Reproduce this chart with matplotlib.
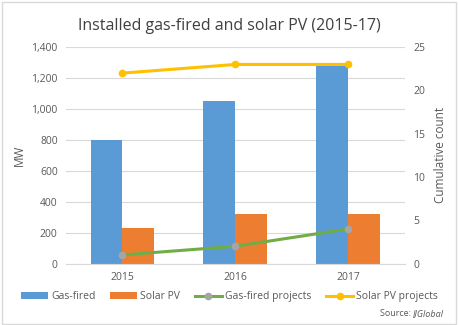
from matplotlib import pyplot as plt
from matplotlib.patches import Rectangle
import numpy as np

years = ["2015", "2016", "2017"]
gas_mw = [800, 1050, 1280]
solar_mw = [230, 320, 320]
gas_projects = [1, 2, 4]
solar_projects = [22, 23, 23]

plt.rcParams['font.family'] = ['Open Sans', 'DejaVu Sans']
grey = "#595959"

fig = plt.figure(figsize=(4.59, 3.25), dpi=100)
ax = fig.add_axes([0.1438, 0.189, 0.7382, 0.666])
ax2 = ax.twinx()

x = np.arange(len(years))
w = 0.283
# bars on the left axis
ax.bar(x - w / 2, gas_mw, w, color="#5b9bd5", label="Gas-fired", zorder=2)
ax.bar(x + w / 2, solar_mw, w, color="#ed7d31", label="Solar PV", zorder=2)

# project counts on the right axis
ax2.plot(x, gas_projects, color="#70ad47", lw=2.2, marker="o", ms=4.5,
         mfc="#a5a5a5", mec="#a5a5a5", label="Gas-fired projects")
ax2.plot(x, solar_projects, color="#ffc000", lw=2.2, marker="o", ms=4.5,
         label="Solar PV projects")

ax.set_xlim(-0.5, 2.5)
ax.set_ylim(0, 1400)
ax.set_yticks(np.arange(0, 1401, 200))
ax.set_yticklabels([f"{v:,}" for v in range(0, 1401, 200)])
ax2.set_ylim(0, 25)
ax2.set_yticks(np.arange(0, 26, 5))
ax.set_xticks(x)
ax.set_xticklabels(years)

ax.grid(axis="y", color="#d9d9d9", lw=0.8, zorder=0)
ax.set_axisbelow(True)
for a in (ax, ax2):
    for s in a.spines.values():
        s.set_visible(False)
    a.tick_params(length=0, labelsize=7.5, colors=grey, pad=6)
ax.spines["bottom"].set_visible(True)
ax.spines["bottom"].set_color("#d9d9d9")

ax.set_ylabel("MW", fontsize=8.5, color=grey, labelpad=4)
ax2.set_ylabel("Cumulative count", fontsize=8.5, color=grey, labelpad=6)

fig.text(0.5, 0.92, "Installed gas-fired and solar PV (2015-17)",
         ha="center", va="center", fontsize=11.5, color="#404040")

h1, l1 = ax.get_legend_handles_labels()
h2, l2 = ax2.get_legend_handles_labels()
fig.legend(h1 + h2, l1 + l2, loc="center", bbox_to_anchor=(0.5, 0.087),
           ncol=4, frameon=False, fontsize=7.5, labelcolor=grey,
           handlelength=2.6, handletextpad=0.3, columnspacing=1.4)

# source note
fig.text(0.9, 0.035, "Source: ", ha="right", va="center", fontsize=6.5, color=grey)
fig.text(0.9, 0.035, "IJGlobal", ha="left", va="center", fontsize=6.5,
         color=grey, style="italic")

# light frame round the figure
fig.patches.append(Rectangle((0.004, 0.004), 0.99, 0.99, transform=fig.transFigure,
                             fill=False, ec="#d9d9d9", lw=1))

fig.savefig("out.png", dpi=100)
